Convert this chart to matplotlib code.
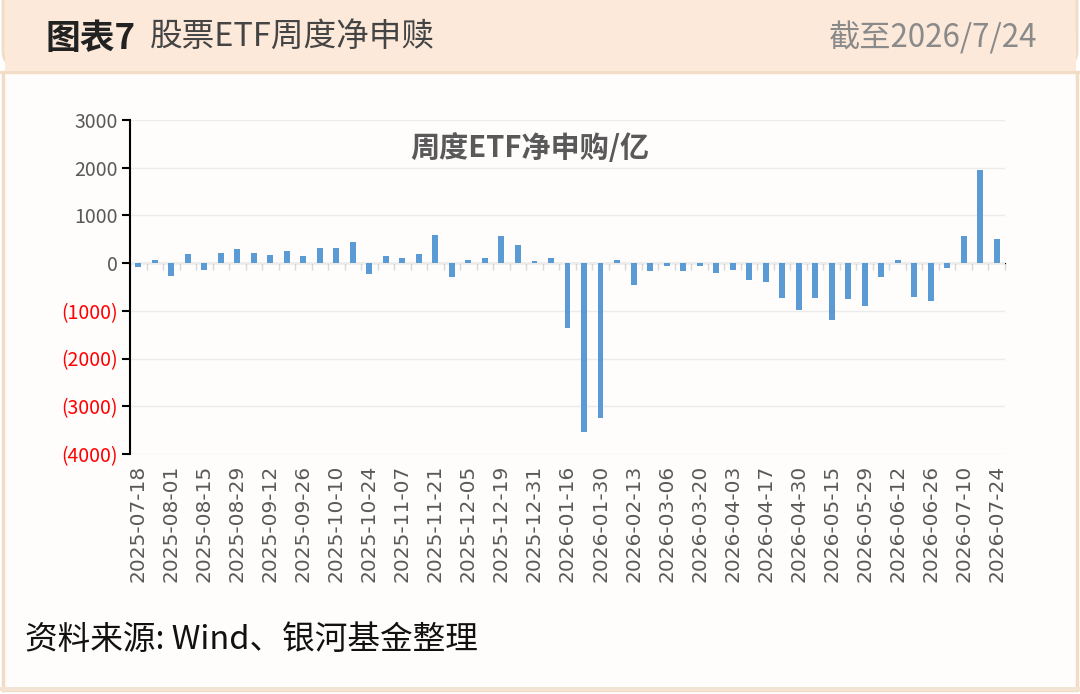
import numpy as np
import matplotlib.pyplot as plt
from matplotlib.patches import FancyBboxPatch, Rectangle

plt.rcParams['font.family'] = ['Noto Sans CJK SC', 'DejaVu Sans']

# weekly dates (one per bar) and net subscription in 100m yuan
dates = ['2025-07-18', '2025-07-25', '2025-08-01', '2025-08-08', '2025-08-15', '2025-08-22',
         '2025-08-29', '2025-09-05', '2025-09-12', '2025-09-19', '2025-09-26', '2025-09-30',
         '2025-10-10', '2025-10-17', '2025-10-24', '2025-10-31', '2025-11-07', '2025-11-14',
         '2025-11-21', '2025-11-28', '2025-12-05', '2025-12-12', '2025-12-19', '2025-12-26',
         '2025-12-31', '2026-01-09', '2026-01-16', '2026-01-23', '2026-01-30', '2026-02-06',
         '2026-02-13', '2026-02-27', '2026-03-06', '2026-03-13', '2026-03-20', '2026-03-27',
         '2026-04-03', '2026-04-10', '2026-04-17', '2026-04-24', '2026-04-30', '2026-05-08',
         '2026-05-15', '2026-05-22', '2026-05-29', '2026-06-05', '2026-06-12', '2026-06-19',
         '2026-06-26', '2026-07-03', '2026-07-10', '2026-07-17', '2026-07-24']
values = [-80, 70, -265, 190, -140, 210, 290, 210, 180, 260, 160, 320, 320, 450, -220,
          160, 100, 190, 590, -300, 60, 100, 560, 370, 40, 100, -1360, -3545, -3250, 70,
          -460, -175, -50, -170, -70, -200, -140, -350, -405, -735, -980, -730, -1190,
          -755, -890, -295, 60, -700, -790, -100, 560, 1960, 500]
yticks = [3000, 2000, 1000, 0, -1000, -2000, -3000, -4000]

fig = plt.figure(figsize=(10.8, 6.94), dpi=100)
fig.patch.set_facecolor('white')

# card background, header band and border
W, H = 1080, 694
fig.patches.append(Rectangle((3 / W, 4 / H), 1074 / W, (H - 76) / H,
                             transform=fig.transFigure, facecolor='#FFFDFB',
                             edgecolor='#F1DDC7', linewidth=2.5, zorder=-4))
fig.patches.append(FancyBboxPatch((3 / W, (H - 72) / H), 1074 / W, 110 / H,
                                  boxstyle='round,pad=0,rounding_size=0.03',
                                  transform=fig.transFigure, facecolor='#FCE9DA',
                                  edgecolor='#F1DDC7', linewidth=2, zorder=-3))
fig.patches.append(Rectangle((4.5 / W, (H - 72) / H), 1071 / W, 40 / H,
                             transform=fig.transFigure, facecolor='#FCE9DA',
                             edgecolor='none', zorder=-2))
fig.patches.append(Rectangle((0, (H - 74) / H), 1, 3 / H, transform=fig.transFigure,
                             facecolor='#F3DCC8', edgecolor='none', zorder=-1))
fig.patches.append(Rectangle((0, 3 / H), 1, 4 / H, transform=fig.transFigure,
                             facecolor='#F3E3D2', edgecolor='none', zorder=-1))

fig.text(45 / W, 1 - 38 / H, '图表7', fontsize=25, fontweight='bold', color='#222222',
         va='center', ha='left')
fig.text(150 / W, 1 - 38 / H, '股票ETF周度净申赎', fontsize=23.5, color='#444444',
         va='center', ha='left')
fig.text(1037 / W, 1 - 38 / H, '截至2026/7/24', fontsize=22.5, color='#8A8A8A',
         va='center', ha='right')
fig.text(25 / W, 1 - 640 / H, '资料来源: Wind、银河基金整理', fontsize=23.5, color='#111111',
         va='center', ha='left')

ax = fig.add_axes([130 / W, 1 - 454 / H, 875 / W, 334 / H])
ax.set_zorder(5)
ax.set_facecolor('none')
x = np.arange(len(values))
ax.bar(x, values, width=0.36, color='#5B9BD5', zorder=3)

ax.set_xlim(-0.5, len(values) - 0.5)
ax.set_ylim(-4000, 3000)
ax.set_yticks(yticks)
ax.set_yticklabels([str(v) if v >= 0 else f'({-v})' for v in yticks])
ax.tick_params(axis='y', labelsize=14, length=6, width=1.5, pad=3, colors='black')
for lab, v in zip(ax.get_yticklabels(), yticks):
    lab.set_color('#595959' if v >= 0 else '#FF0000')

ax.set_xticks(x[::2])
ax.set_xticklabels(dates[::2], rotation=90, fontsize=14.5, color='#595959',
                   family=['DejaVu Sans'])
ax.tick_params(axis='x', length=0, pad=8)

ax.grid(axis='y', color='#EBEBEB', linewidth=1, zorder=0)
for s in ['top', 'right', 'bottom']:
    ax.spines[s].set_visible(False)
ax.spines['left'].set_linewidth(1.5)

# zero axis with category boundary marks
ymin, ymax = ax.get_ylim()
zero_ax = ax.secondary_xaxis((0 - ymin) / (ymax - ymin))
zero_ax.set_xticks(np.arange(len(values) + 1) - 0.5)
zero_ax.tick_params(direction='in', length=5, width=1, color='#D9D9D9', labelbottom=False)
zero_ax.set_xticklabels([])
zero_ax.spines['bottom'].set_color('#D9D9D9')
zero_ax.spines['bottom'].set_linewidth(1.5)

ax.text(0.457, 0.916, '周度ETF净申购/亿', transform=ax.transAxes, fontsize=21,
        fontweight='bold', color='#595959', ha='center', va='center')

fig.savefig('out.png', dpi=100, facecolor=fig.get_facecolor())
